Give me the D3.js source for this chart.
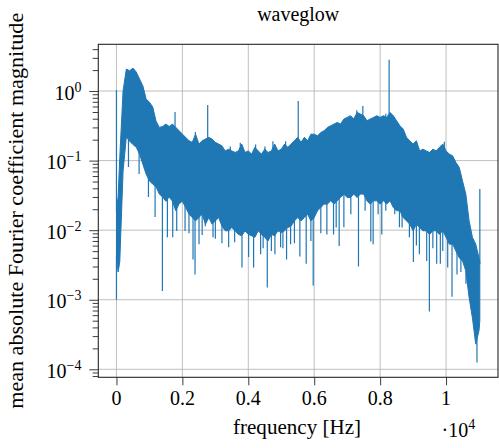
<!DOCTYPE html>
<html>
<head>
<meta charset="utf-8">
<script src="https://cdn.jsdelivr.net/npm/d3@7"></script>
<style>
body { margin: 0; background: #fff; }
</style>
</head>
<body>
<svg id="chart"></svg>
<script>
// Spectrum envelope read per bin (Hz): upper and lower edge of the dense trace
var freq = [0, 50].concat(d3.range(100, 11001, 100), [11025]);

var hi = [0.02, 0.03, 0.11, 1.0, 2.07, 1.96, 2.14, 1.88, 1.49, 1.19,
  0.77, 0.69, 0.59, 0.37, 0.30, 0.31, 0.335, 0.31, 0.335, 0.30,
  0.27, 0.24, 0.216, 0.193, 0.183, 0.24, 0.173, 0.193, 0.204, 0.216,
  0.204, 0.183, 0.173, 0.163, 0.138, 0.146, 0.138, 0.131, 0.138, 0.173,
  0.131, 0.138, 0.124, 0.155, 0.138, 0.124, 0.146, 0.131, 0.138, 0.173,
  0.138, 0.146, 0.173, 0.155, 0.173, 0.193, 0.216, 0.183, 0.216, 0.193,
  0.24, 0.24, 0.227, 0.254, 0.268, 0.30, 0.317, 0.335, 0.354, 0.335,
  0.396, 0.418, 0.442, 0.396, 0.493, 0.467, 0.442, 0.374, 0.396, 0.418,
  0.442, 0.418, 0.442, 0.418, 0.493, 0.442, 0.374, 0.317, 0.284, 0.216,
  0.193, 0.173, 0.193, 0.138, 0.146, 0.138, 0.131, 0.146, 0.138, 0.155,
  0.173, 0.138, 0.124, 0.117, 0.094, 0.080, 0.051, 0.033, 0.0136, 0.0079,
  0.0063, 0.004, 0.0035];

var lo = [0.004, 0.0025, 0.0035, 0.07, 0.22, 0.19, 0.17, 0.156, 0.124, 0.089,
  0.064, 0.051, 0.046, 0.042, 0.033, 0.030, 0.026, 0.030, 0.026, 0.019,
  0.024, 0.026, 0.0212, 0.017, 0.0152, 0.0136, 0.0152, 0.017, 0.0122, 0.0152,
  0.0122, 0.0136, 0.0152, 0.0115, 0.0098, 0.0098, 0.0109, 0.0098, 0.0087, 0.0083,
  0.0098, 0.0087, 0.0083, 0.0079, 0.0098, 0.0087, 0.0079, 0.0070, 0.0087, 0.0083,
  0.0098, 0.0092, 0.0098, 0.0109, 0.0115, 0.0136, 0.0152, 0.0136, 0.0152, 0.017,
  0.0136, 0.0152, 0.019, 0.0212, 0.0237, 0.0237, 0.0264, 0.0237, 0.0264, 0.0295,
  0.033, 0.0295, 0.0295, 0.033, 0.0295, 0.033, 0.033, 0.0264, 0.0237, 0.0264,
  0.0264, 0.0237, 0.0264, 0.0237, 0.0264, 0.0212, 0.019, 0.019, 0.0152, 0.0136,
  0.0122, 0.0098, 0.0122, 0.0109, 0.0098, 0.0098, 0.0087, 0.0098, 0.0098, 0.0087,
  0.0098, 0.0079, 0.0063, 0.0063, 0.005, 0.0040, 0.0036, 0.0026, 0.00107, 0.00055,
  0.00023, 0.00036, 0.0005];

// isolated peaks above the envelope
var upF = [0, 1777, 2394, 2768, 3454, 3757, 4222, 4505, 4747, 5131, 5515, 7293, 7475,
  8171, 8273, 8500, 9948, 11025];
var upV = [1.03, 0.5, 0.257, 0.63, 0.16, 0.18, 0.17, 0.16, 0.19, 0.19, 0.72, 0.53, 0.61,
  0.47, 2.82, 0.34, 0.186, 0.039];

// isolated dips below the envelope
var downF = [0, 364, 687, 970, 1172, 1394, 1545, 1707, 1828, 2081, 2200, 2323, 2384, 2505,
  2600, 2697, 2929, 3000, 3200, 3404, 3586, 3808, 4010, 4161, 4374, 4450, 4576, 4700,
  4808, 4980, 5050, 5161, 5283, 5400, 5565, 5757, 5899, 5969, 6200, 6384, 6586, 6667,
  6757, 6900, 7111, 7343, 7545, 7717, 7788, 7939, 8050, 8171, 8444, 8586, 8666, 8888,
  9009, 9100, 9191, 9413, 9494, 9600, 9716, 9827, 9900, 10050, 10181, 10332, 10450,
  10605, 10938];
var downV = [0.001, 0.081, 0.064, 0.030, 0.0155, 0.00133, 0.0079, 0.0079, 0.0097, 0.0097,
  0.009, 0.0038, 0.0023, 0.0063, 0.0085, 0.0114, 0.0079, 0.0075, 0.0065, 0.0057,
  0.0067, 0.0029, 0.0041, 0.0029, 0.0045, 0.0055, 0.0015, 0.005, 0.0045, 0.0057,
  0.0055, 0.0038, 0.0063, 0.0065, 0.0042, 0.0033, 0.007, 0.0016, 0.009, 0.0087,
  0.0087, 0.0109, 0.0059, 0.011, 0.017, 0.0030, 0.019, 0.0069, 0.0063, 0.017,
  0.0087, 0.019, 0.017, 0.011, 0.0109, 0.0079, 0.0035, 0.006, 0.0045, 0.0036,
  0.00068, 0.0055, 0.0033, 0.0033, 0.005, 0.0029, 0.0011, 0.0023, 0.0025, 0.0017,
  0.000125];

var xTicks = [0, 2000, 4000, 6000, 8000, 10000];
var xTickLabels = ["0", "0.2", "0.4", "0.6", "0.8", "1"];
var yTicks = [1e-4, 1e-3, 1e-2, 1e-1, 1];
var yTickExp = ["\u22124", "\u22123", "\u22122", "\u22121", "0"];

var width = 499,
    height = 448;

var pLeft = 98.3, pRight = 498, pTop = 44.3, pBottom = 377.3;

var x = d3.scaleLinear()
    .domain([-551.25, 11576.25])
    .range([pLeft, pRight]);

var y = d3.scaleLog()
    .domain([Math.pow(10, -4.115), Math.pow(10, 0.672)])
    .range([pBottom, pTop]);

var blue = "#1f77b4",
    gridColor = "#b8b8b8",
    axisColor = "#262626",
    serif = "'Liberation Serif', 'Times New Roman', serif";

var svg = d3.select("#chart")
    .attr("width", width)
    .attr("height", height)
    .attr("font-family", serif);

svg.append("defs").append("clipPath").attr("id", "plotclip")
  .append("rect")
    .attr("x", pLeft).attr("y", pTop)
    .attr("width", pRight - pLeft).attr("height", pBottom - pTop);

// grid
var grid = svg.append("g");
grid.selectAll(".gx").data(xTicks).enter().append("line")
    .attr("x1", d => x(d)).attr("x2", d => x(d))
    .attr("y1", pTop).attr("y2", pBottom)
    .attr("stroke", gridColor).attr("stroke-width", 0.9);
grid.selectAll(".gy").data(yTicks).enter().append("line")
    .attr("x1", pLeft).attr("x2", pRight)
    .attr("y1", d => y(d)).attr("y2", d => y(d))
    .attr("stroke", gridColor).attr("stroke-width", 0.9);

// data
var g = svg.append("g").attr("clip-path", "url(#plotclip)");

var rows = freq.map((f, i) => ({f: f, hi: hi[i], lo: lo[i]}));

var area = d3.area()
    .x(d => x(d.f))
    .y0(d => y(d.lo))
    .y1(d => y(d.hi));

g.append("path")
    .datum(rows)
    .attr("d", area)
    .attr("fill", blue)
    .attr("stroke", blue)
    .attr("stroke-width", 1)
    .attr("stroke-linejoin", "round");

var hiAt = d3.scaleLinear().domain(freq).range(hi.map(v => y(v)));
var loAt = d3.scaleLinear().domain(freq).range(lo.map(v => y(v)));

g.selectAll(".up").data(upF).enter().append("line")
    .attr("x1", d => x(d)).attr("x2", d => x(d))
    .attr("y1", d => hiAt(d) + 2)
    .attr("y2", (d, i) => y(upV[i]))
    .attr("stroke", blue).attr("stroke-width", 1.2);

g.selectAll(".down").data(downF).enter().append("line")
    .attr("x1", d => x(d)).attr("x2", d => x(d))
    .attr("y1", d => loAt(d) - 2)
    .attr("y2", (d, i) => y(downV[i]))
    .attr("stroke", blue).attr("stroke-width", 1.2);

// axes ticks
var minor = [];
for (var k = -5; k <= 0; k++) {
  for (var m = 2; m <= 9; m++) {
    var v = m * Math.pow(10, k);
    if (v > y.domain()[0] && v < y.domain()[1]) minor.push(v);
  }
}

var yMajor = svg.append("g")
    .attr("transform", "translate(" + pLeft + ",0)")
    .call(d3.axisLeft(y).tickValues(yTicks).tickSize(9).tickFormat(""));
var yMinor = svg.append("g")
    .attr("transform", "translate(" + pLeft + ",0)")
    .call(d3.axisLeft(y).tickValues(minor).tickSize(5.6).tickFormat(""));
var xAxis = svg.append("g")
    .attr("transform", "translate(0," + pBottom + ")")
    .call(d3.axisBottom(x).tickValues(xTicks).tickSize(8).tickFormat(""));

[yMajor, yMinor, xAxis].forEach(function(a) {
  a.attr("font-family", null);
  a.select(".domain").remove();
  a.selectAll("line").attr("stroke", axisColor).attr("stroke-width", 0.9);
});

// frame
svg.append("rect")
    .attr("x", pLeft).attr("y", pTop)
    .attr("width", pRight - pLeft).attr("height", pBottom - pTop)
    .attr("fill", "none")
    .attr("stroke", axisColor)
    .attr("stroke-width", 1.1);

// tick labels
svg.selectAll(".xl").data(xTicks).enter().append("text")
    .attr("x", d => x(d))
    .attr("y", 405)
    .attr("text-anchor", "middle")
    .attr("font-size", 20)
    .text((d, i) => xTickLabels[i]);

var yl = svg.selectAll(".yl").data(yTicks).enter().append("text")
    .attr("x", 81.5)
    .attr("y", d => y(d) + 8.5)
    .attr("text-anchor", "end")
    .attr("font-size", 20);
yl.append("tspan").text("10");
yl.append("tspan")
    .attr("font-size", 14)
    .attr("dy", -8)
    .text((d, i) => yTickExp[i]);

// multiplier
var mult = svg.append("text")
    .attr("x", 441.5)
    .attr("y", 437)
    .attr("font-size", 20);
mult.append("tspan").text("\u00b710");
mult.append("tspan").attr("font-size", 14).attr("dy", -8).text("4");

// titles
svg.append("text")
    .attr("x", (pLeft + pRight) / 2)
    .attr("y", 20.7)
    .attr("text-anchor", "middle")
    .attr("font-size", 20)
    .attr("textLength", 82)
    .attr("lengthAdjust", "spacingAndGlyphs")
    .text("waveglow");

svg.append("text")
    .attr("x", 297)
    .attr("y", 434)
    .attr("text-anchor", "middle")
    .attr("font-size", 20)
    .attr("textLength", 128)
    .attr("lengthAdjust", "spacingAndGlyphs")
    .text("frequency [Hz]");

svg.append("text")
    .attr("transform", "translate(22.7," + ((pTop + pBottom) / 2) + ") rotate(-90)")
    .attr("text-anchor", "middle")
    .attr("font-size", 20)
    .attr("textLength", 396)
    .attr("lengthAdjust", "spacingAndGlyphs")
    .text("mean absolute Fourier coefficient magnitude");
</script>
</body>
</html>
